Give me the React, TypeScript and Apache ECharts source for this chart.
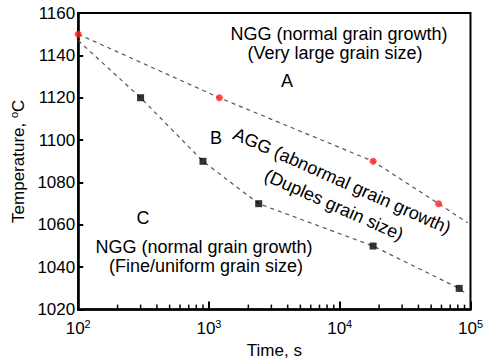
import React, { useEffect, useRef } from "react";
import * as echarts from "echarts";

const aggPoints: [number, number][] = [
  [100, 1150],
  [1200, 1120],
  [18000, 1090],
  [57000, 1070],
];
const aggLine: [number, number][] = [
  [100, 1150],
  [1200, 1120],
  [18000, 1090],
  [57000, 1070],
  [95000, 1061],
];
const nggPoints: [number, number][] = [
  [300, 1120],
  [900, 1090],
  [2400, 1070],
  [18000, 1050],
  [82000, 1030],
];
const nggLine: [number, number][] = [
  [100, 1147],
  [300, 1120],
  [900, 1090],
  [2400, 1070],
  [18000, 1050],
  [82000, 1030],
  [90000, 1028],
];
const minorTickValues: number[] = [
  200, 300, 400, 500, 600, 700, 800, 900,
  2000, 3000, 4000, 5000, 6000, 7000, 8000, 9000,
  20000, 30000, 40000, 50000, 60000, 70000, 80000, 90000,
];

const FONT = "'Liberation Sans', Arial, sans-serif";

export default function App() {
  const ref = useRef<HTMLDivElement>(null);
  useEffect(() => {
    if (!ref.current) return;
    const chart = echarts.init(ref.current, null, { renderer: "svg" });
    const deg = Math.PI / 180;
    chart.setOption({
      animation: false,
      textStyle: { fontFamily: FONT },
      grid: {
        left: 73,
        right: 12,
        top: 13,
        bottom: 52,
        show: true,
        borderColor: "#000",
        borderWidth: 2,
        backgroundColor: "transparent",
      },
      xAxis: {
        type: "log",
        logBase: 10,
        min: 100,
        max: 100000,
        name: "Time, s",
        nameLocation: "middle",
        nameGap: 20,
        nameTextStyle: { fontSize: 17, color: "#000", fontFamily: FONT },
        axisLine: { lineStyle: { color: "#000", width: 2.5 } },
        axisTick: { inside: true, length: 8, lineStyle: { color: "#000", width: 2 } },
        splitLine: { show: false },
        axisLabel: {
          color: "#000",
          fontSize: 17,
          fontFamily: FONT,
          margin: 9,
          formatter: (v: number) => `10{sup|${Math.round(Math.log10(v))}}`,
          rich: {
            sup: { fontSize: 11, fontFamily: FONT, color: "#000", padding: [0, 0, 9, 0] },
          },
        },
      },
      yAxis: {
        type: "value",
        min: 1020,
        max: 1160,
        interval: 20,
        name: "Temperature, {sup|o}C",
        nameLocation: "middle",
        nameGap: 46,
        nameTextStyle: {
          fontSize: 17,
          color: "#000",
          fontFamily: FONT,
          rich: {
            sup: { fontSize: 11, fontFamily: FONT, color: "#000", padding: [0, 0, 9, 0] },
          },
        },
        axisLine: { show: true, lineStyle: { color: "#000", width: 2.5 } },
        axisTick: { show: true, inside: true, length: 5, lineStyle: { color: "#000", width: 2 } },
        splitLine: { show: false },
        axisLabel: {
          color: "#000",
          fontSize: 17,
          fontFamily: FONT,
          margin: 3,
          formatter: (v: number) => String(v),
        },
      },
      series: [
        {
          type: "line",
          data: aggLine,
          symbol: "none",
          lineStyle: { color: "#555", width: 1.2, type: [4, 4] },
          z: 2,
        },
        {
          type: "line",
          data: nggLine,
          symbol: "none",
          lineStyle: { color: "#555", width: 1.2, type: [4, 4] },
          z: 2,
        },
        {
          type: "scatter",
          data: aggPoints,
          symbol: "circle",
          symbolSize: 7,
          itemStyle: { color: "#ff2020" },
          z: 3,
        },
        {
          type: "scatter",
          data: nggPoints,
          symbol: "rect",
          symbolSize: 7,
          itemStyle: { color: "#000" },
          z: 3,
        },
        {
          type: "custom",
          data: minorTickValues.map((v) => [v, 1020]),
          encode: { x: 0, y: 1 },
          silent: true,
          renderItem: (params: any, api: any) => {
            const p = api.coord([api.value(0), api.value(1)]);
            return {
              type: "line",
              shape: { x1: p[0], y1: p[1], x2: p[0], y2: p[1] - 5 },
              style: { stroke: "#000", lineWidth: 1.5 },
            };
          },
          z: 4,
        },
      ],
      graphic: [
        {
          type: "text",
          x: 339,
          y: 34,
          style: {
            text: "NGG (normal grain growth)",
            font: `18px ${FONT}`,
            fill: "#000",
            align: "center",
            verticalAlign: "middle",
          },
        },
        {
          type: "text",
          x: 335,
          y: 53,
          style: {
            text: "(Very large grain size)",
            font: `18px ${FONT}`,
            fill: "#000",
            align: "center",
            verticalAlign: "middle",
          },
        },
        {
          type: "text",
          x: 287,
          y: 81,
          style: { text: "A", font: `18px ${FONT}`, fill: "#000", align: "center", verticalAlign: "middle" },
        },
        {
          type: "text",
          x: 216,
          y: 138,
          style: { text: "B", font: `18px ${FONT}`, fill: "#000", align: "center", verticalAlign: "middle" },
        },
        {
          type: "text",
          x: 143,
          y: 218,
          style: { text: "C", font: `18px ${FONT}`, fill: "#000", align: "center", verticalAlign: "middle" },
        },
        {
          type: "text",
          x: 342,
          y: 181,
          rotation: -24 * deg,
          style: {
            text: "AGG (abnormal grain growth)",
            font: `18px ${FONT}`,
            fill: "#000",
            align: "center",
            verticalAlign: "middle",
          },
        },
        {
          type: "text",
          x: 334,
          y: 205,
          rotation: -24 * deg,
          style: {
            text: "(Duples grain size)",
            font: `18px ${FONT}`,
            fill: "#000",
            align: "center",
            verticalAlign: "middle",
          },
        },
        {
          type: "text",
          x: 204,
          y: 247,
          style: {
            text: "NGG (normal grain growth)",
            font: `18px ${FONT}`,
            fill: "#000",
            align: "center",
            verticalAlign: "middle",
          },
        },
        {
          type: "text",
          x: 206,
          y: 266,
          style: {
            text: "(Fine/uniform grain size)",
            font: `18px ${FONT}`,
            fill: "#000",
            align: "center",
            verticalAlign: "middle",
          },
        },
      ],
    });
    return () => chart.dispose();
  }, []);
  return (
    <div
      ref={ref}
      style={{ position: "absolute", left: 0, top: 0, width: 486, height: 364 }}
    />
  );
}
